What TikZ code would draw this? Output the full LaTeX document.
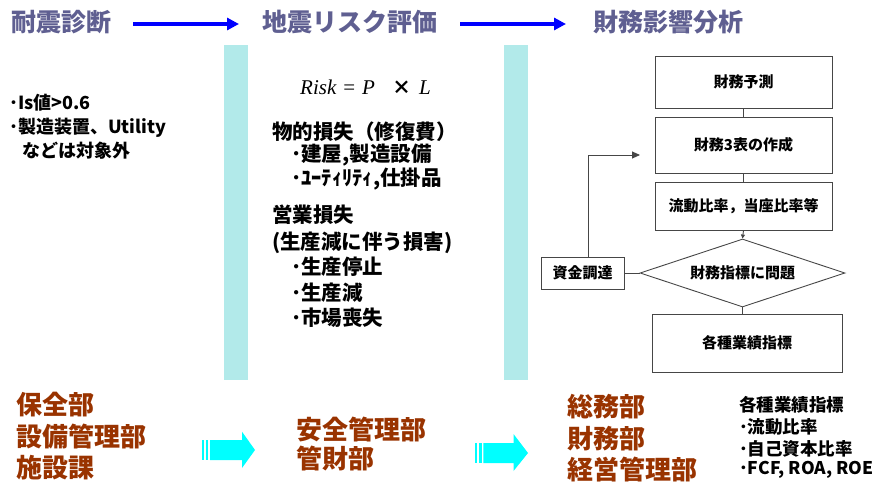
\documentclass[tikz,border=0pt]{standalone}
\usepackage{fontspec}
\newfontfamily\jp{Noto Sans CJK JP}[BoldFont={Noto Sans CJK JP Black}]
\newfontfamily\tms{Liberation Serif}
\usetikzlibrary{shapes.geometric,arrows.meta}
\definecolor{ttl}{RGB}{95,95,145}
\definecolor{brn}{RGB}{153,51,0}
\definecolor{barc}{RGB}{178,234,234}
\definecolor{arrc}{RGB}{0,255,255}
\definecolor{lnc}{RGB}{70,70,70}
\tikzset{
  title/.style={font=\jp\bfseries\fontsize{25}{30}\selectfont, text=ttl, inner sep=0, anchor=west},
  lefttxt/.style={font=\jp\bfseries\fontsize{18}{20}\selectfont, inner sep=0, anchor=west},
  midtxt/.style={font=\jp\bfseries\fontsize{20.5}{22}\selectfont, inner sep=0, anchor=west},
  dept/.style={font=\jp\bfseries\fontsize{26}{30}\selectfont, text=brn, inner sep=0, anchor=west},
  kpi/.style={font=\jp\bfseries\fontsize{17.5}{20}\selectfont, inner sep=0, anchor=west},
  fbox/.style={draw=lnc, line width=0.9pt, rectangle, inner sep=0, font=\jp\bfseries\fontsize{15}{17}\selectfont},
  fdia/.style={draw=lnc, line width=0.9pt, diamond, aspect=3, inner sep=0, font=\jp\bfseries\fontsize{15}{17}\selectfont},
  flink/.style={draw=lnc, line width=0.9pt},
  bluearr/.style={draw={rgb,255:red,0;green,0;blue,255}, line width=3.2pt, -{Triangle[length=12pt,width=12pt]}},
  hatch/.style={fill=barc, draw=none},
  fatarr/.style={fill=arrc, draw=none}
}
\begin{document}
\begin{tikzpicture}[x=1pt,y=-1pt]
\useasboundingbox (0,0) rectangle (875,484);
% hatched bars
\fill[hatch] (224,45) rectangle (248,380);
\fill[hatch] (504,45) rectangle (528,380);
% titles
\node[title] (t1) at (11,22) {耐震診断};
\node[title] (t2) at (262,22) {地震リスク評価};
\node[title] (t3) at (593,22) {財務影響分析};
\coordinate (a1s) at (133,24);
\coordinate (a1e) at (239,24);
\coordinate (a2s) at (460,24);
\coordinate (a2e) at (566,24);
\draw[bluearr] (a1s) -- (a1e);
\draw[bluearr] (a2s) -- (a2e);
% left text
\node[lefttxt] (l1) at (9,103) {･Is値>0.6};
\node[lefttxt] (l2) at (9,128) {･製造装置、Utility};
\node[lefttxt] (l3) at (22,151) {などは対象外};
% middle
\node[inner sep=0, anchor=west, font=\fontsize{21}{24}\selectfont] (risk) at (300,87) {\tms\itshape Risk\kern7pt\upshape =\kern7pt\itshape P\kern17pt{\jp\bfseries\fontsize{19}{20}\selectfont ×}\kern8pt L};
\node[midtxt] (m1) at (272,132) {物的損失（修復費）};
\node[midtxt] (m2) at (291,155) {･建屋,製造設備};
\node[midtxt] (m3) at (291,179) {･ﾕｰﾃｨﾘﾃｨ,仕掛品};
\node[midtxt] (m4) at (272,215) {営業損失};
\node[midtxt] (m5) at (272,243) {(生産減に伴う損害)};
\node[midtxt] (m6) at (291,267) {･生産停止};
\node[midtxt] (m7) at (291,293) {･生産減};
\node[midtxt] (m8) at (291,318) {･市場喪失};
% flowchart
\node[fbox, minimum width=177pt, minimum height=52pt] (b1) at (743.5,82) {財務予測};
\node[fbox, minimum width=177pt, minimum height=56pt] (b2) at (743.5,145) {財務3表の作成};
\node[fbox, minimum width=177pt, minimum height=48pt] (b3) at (743.5,206) {流動比率，当座比率等};
\node[fdia, minimum width=205pt, minimum height=68pt] (dia) at (742.5,273) {財務指標に問題};
\node[fbox, minimum width=190pt, minimum height=58pt] (b4) at (747,343) {各種業績指標};
\node[fbox, minimum width=83pt, minimum height=32pt] (fund) at (582.5,273) {資金調達};
\coordinate (loopend) at (640,155);
\draw[flink] (b1.south) -- (b2.north);
\draw[flink] (b2.south) -- (b3.north);
\draw[flink, -{Triangle[length=4pt,width=4pt]}] (b3.south) -- (dia.north);
\draw[flink] (dia.south) -- ([xshift=-4.5pt]b4.north);
\draw[flink] (fund.east) -- (dia.west);
\draw[flink, -{Triangle[length=8pt,width=7pt]}] ([xshift=5.5pt]fund.north) |- (loopend);
% bottom departments
\node[dept] (d1) at (16,405) {保全部};
\node[dept] (d2) at (16,437) {設備管理部};
\node[dept] (d3) at (16,468) {施設課};
\node[dept] (d4) at (296,430) {安全管理部};
\node[dept] (d5) at (296,459) {管財部};
\node[dept] (d6) at (567,407) {総務部};
\node[dept] (d7) at (567,439) {財務部};
\node[dept] (d8) at (567,470) {経営管理部};
% fat arrows
\fill[fatarr] (201.7,440) rectangle (203.7,460);
\fill[fatarr] (206,440) rectangle (208.3,460);
\fill[fatarr] (210,440) -- (242,440) -- (242,431.7) -- (255,450) -- (242,468) -- (242,460) -- (210,460) -- cycle;
\fill[fatarr] (475,443) rectangle (476.8,463);
\fill[fatarr] (479,443) rectangle (481.7,463);
\fill[fatarr] (483.3,443) -- (513.5,443) -- (513.5,434) -- (528,453) -- (513.5,471) -- (513.5,463) -- (483.3,463) -- cycle;
% KPI list
\node[kpi] (k1) at (739,405) {各種業績指標};
\node[kpi] (k2) at (739,427) {･流動比率};
\node[kpi] (k3) at (739,449) {･自己資本比率};
\node[kpi] (k4) at (739,470) {･FCF, ROA, ROE};
\end{tikzpicture}
\end{document}
